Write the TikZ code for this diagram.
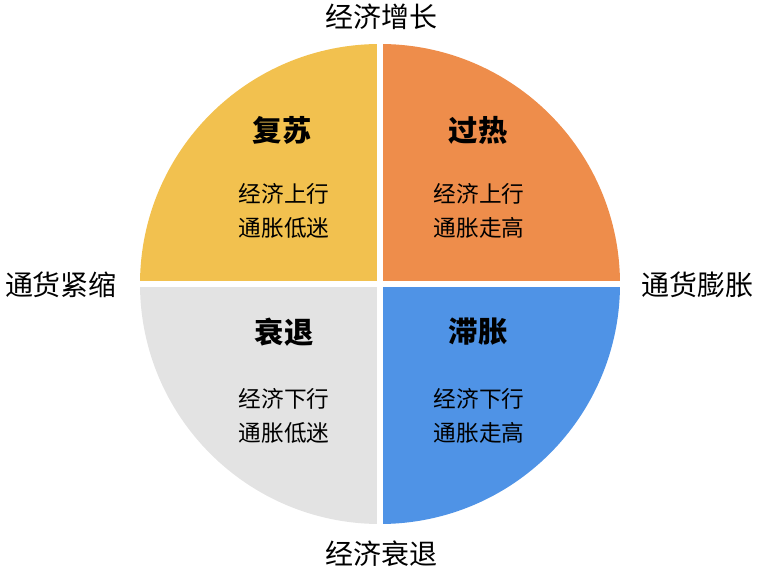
\documentclass[tikz,border=0pt]{standalone}
\usepackage{fontspec}
\newfontfamily\cjk{Noto Sans CJK SC}
\definecolor{recov}{HTML}{F2C14F}
\definecolor{heat}{HTML}{EE8D4B}
\definecolor{reces}{HTML}{E3E3E3}
\definecolor{stag}{HTML}{4F93E6}
\tikzset{
  title/.style={font=\cjk\fontsize{22}{24}\selectfont\bfseries},
  body/.style={font=\cjk\fontsize{17}{26}\selectfont,align=center},
  axis/.style={font=\cjk\fontsize{21}{24}\selectfont}
}
\begin{document}
\begin{tikzpicture}[x=0.75pt,y=0.75pt]
	\useasboundingbox (0,0) rectangle (757,570);
	\coordinate (c) at (380,286);
	% quadrants
	\fill[recov] (c) -- ++(180:240) arc[start angle=180,end angle=90,radius=180pt] -- cycle;
	\fill[heat] (c) -- ++(90:240) arc[start angle=90,end angle=0,radius=180pt] -- cycle;
	\fill[stag] (c) -- ++(0:240) arc[start angle=0,end angle=-90,radius=180pt] -- cycle;
	\fill[reces] (c) -- ++(-90:240) arc[start angle=-90,end angle=-180,radius=180pt] -- cycle;
	\draw[white,line width=4.5pt] (380,40) -- (380,532);
	\draw[white,line width=4.5pt] (136,286) -- (624,286);
	% quadrant texts
	\node[title] (fs) at (282,440) {复苏};
	\node[body] (fsb) at (284,359) {经济上行\\通胀低迷};
	\node[title] (gr) at (478,440) {过热};
	\node[body] (grb) at (479,359) {经济上行\\通胀走高};
	\node[title] (st) at (284,238) {衰退};
	\node[body] (stb) at (284,154) {经济下行\\通胀低迷};
	\node[title] (zz) at (478,238) {滞胀};
	\node[body] (zzb) at (479,154) {经济下行\\通胀走高};
	% axis labels
	\node[axis] (up) at (381,553) {经济增长};
	\node[axis] (down) at (381,16) {经济衰退};
	\node[axis] (left) at (61,285) {通货紧缩};
	\node[axis] (right) at (697,285) {通货膨胀};
\end{tikzpicture}
\end{document}
